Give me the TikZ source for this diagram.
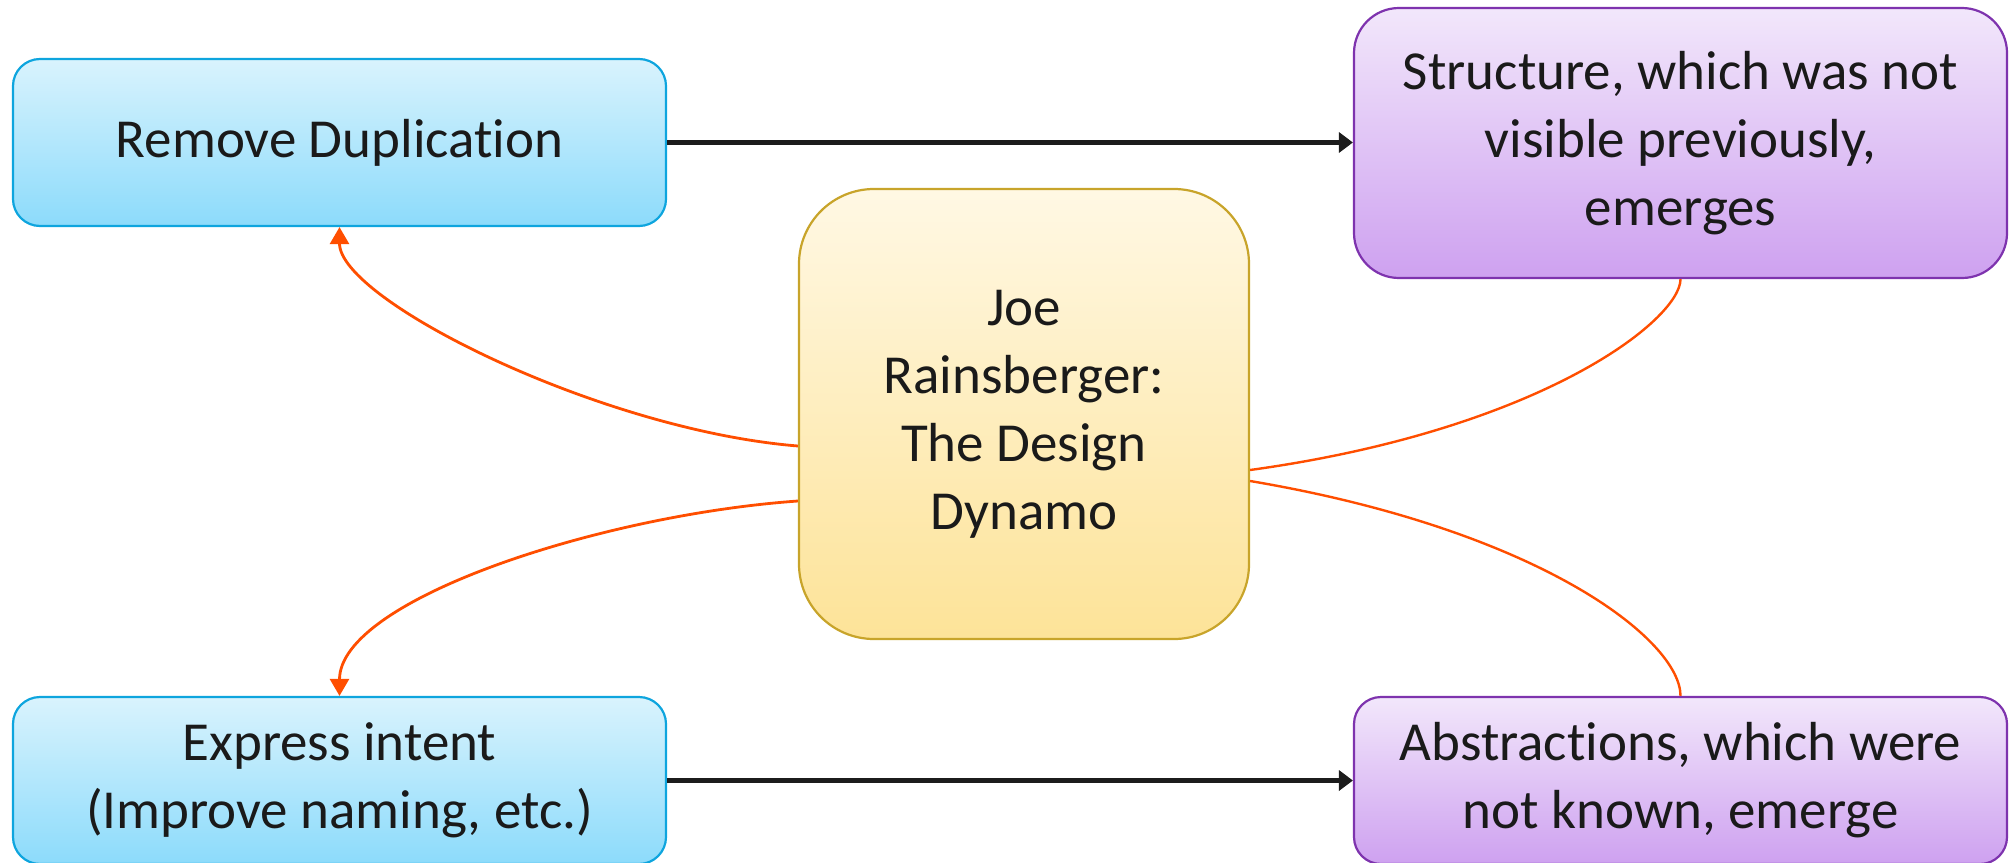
\documentclass[tikz,border=0pt]{standalone}
\usepackage{fontspec}
\setmainfont{Carlito}[Ligatures={NoCommon,NoRare,NoContextual},Contextuals=NoAlternate]
\usetikzlibrary{arrows.meta,calc}
\definecolor{txt}{HTML}{1A1A1A}
\definecolor{bluetop}{HTML}{D9F3FD}
\definecolor{bluebot}{HTML}{8CDBFB}
\definecolor{blueline}{HTML}{0EA5DE}
\definecolor{purtop}{HTML}{F2E7FB}
\definecolor{purbot}{HTML}{CEA1F0}
\definecolor{purline}{HTML}{7E33AE}
\definecolor{yeltop}{HTML}{FFF8E4}
\definecolor{yelbot}{HTML}{FDE398}
\definecolor{yelline}{HTML}{C8A42A}
\definecolor{orng}{HTML}{FF4E00}
\definecolor{blk}{HTML}{1C1C1C}
\begin{document}
\begin{tikzpicture}[x=1pt,y=-1pt,
  box/.style={draw, line width=2.2pt, inner sep=0pt, align=center, text=txt,
    font=\fontsize{55}{68}\selectfont},
  bluebox/.style={box, draw=blueline, top color=bluetop, bottom color=bluebot,
    minimum width=653pt, minimum height=167pt, rounded corners=27pt},
  purbox/.style={box, draw=purline, top color=purtop, bottom color=purbot,
    minimum width=653pt, rounded corners=27pt},
  yelbox/.style={box, draw=yelline, top color=yeltop, bottom color=yelbot,
    minimum width=450pt, minimum height=450pt, rounded corners=75pt},
  flow/.style={draw=blk, line width=5.5pt, -{Triangle[length=14pt,width=20pt]}},
  link/.style={draw=orng, line width=2.8pt},
  linkarrow/.style={link, -{Triangle[length=17pt,width=19pt]}}
]
\useasboundingbox (0,0) rectangle (2015,862);
\node[bluebox] (rd) at (339.5,142.5) {Remove Duplicat\kern0pt ion};
\node[purbox, minimum height=270pt, rounded corners=45pt] (st) at (1680.5,143) {Structure, which was not\\visible previously,\\emerges};
\node[yelbox] (c) at (1024,414) {Joe\\Rainsberger:\\The Design\\Dynamo};
\node[bluebox] (ex) at (339.5,780.5) {Express intent\\(Improve naming, etc.)};
\node[purbox, minimum height=167pt] (ab) at (1680.5,780.5) {Abstract\kern0pt ions, which were\\not known, emerge};

\draw[flow] (rd.east) -- (st.west |- rd.east);
\draw[flow] (ex.east) -- (ab.west |- ex.east);

\coordinate (c1) at ($(c.west)+(0,32)$);
\coordinate (c2) at ($(c.west)+(0,87)$);
\coordinate (c3) at ($(c.east)+(0,56)$);
\coordinate (c4) at ($(c.east)+(0,67)$);
\draw[linkarrow] (c1) .. controls (600,430) and (rd.south |- 0,300) .. (rd.south);
\draw[linkarrow] (c2) .. controls (600,515) and (ex.north |- 0,600) .. (ex.north);
\draw[link, line width=2.4pt] (c3) .. controls (1540,430) and (st.south |- 0,320) .. (st.south);
\draw[link, line width=2.4pt] (c4) .. controls (1540,530) and (ab.north |- 0,640) .. (ab.north);
\end{tikzpicture}
\end{document}
